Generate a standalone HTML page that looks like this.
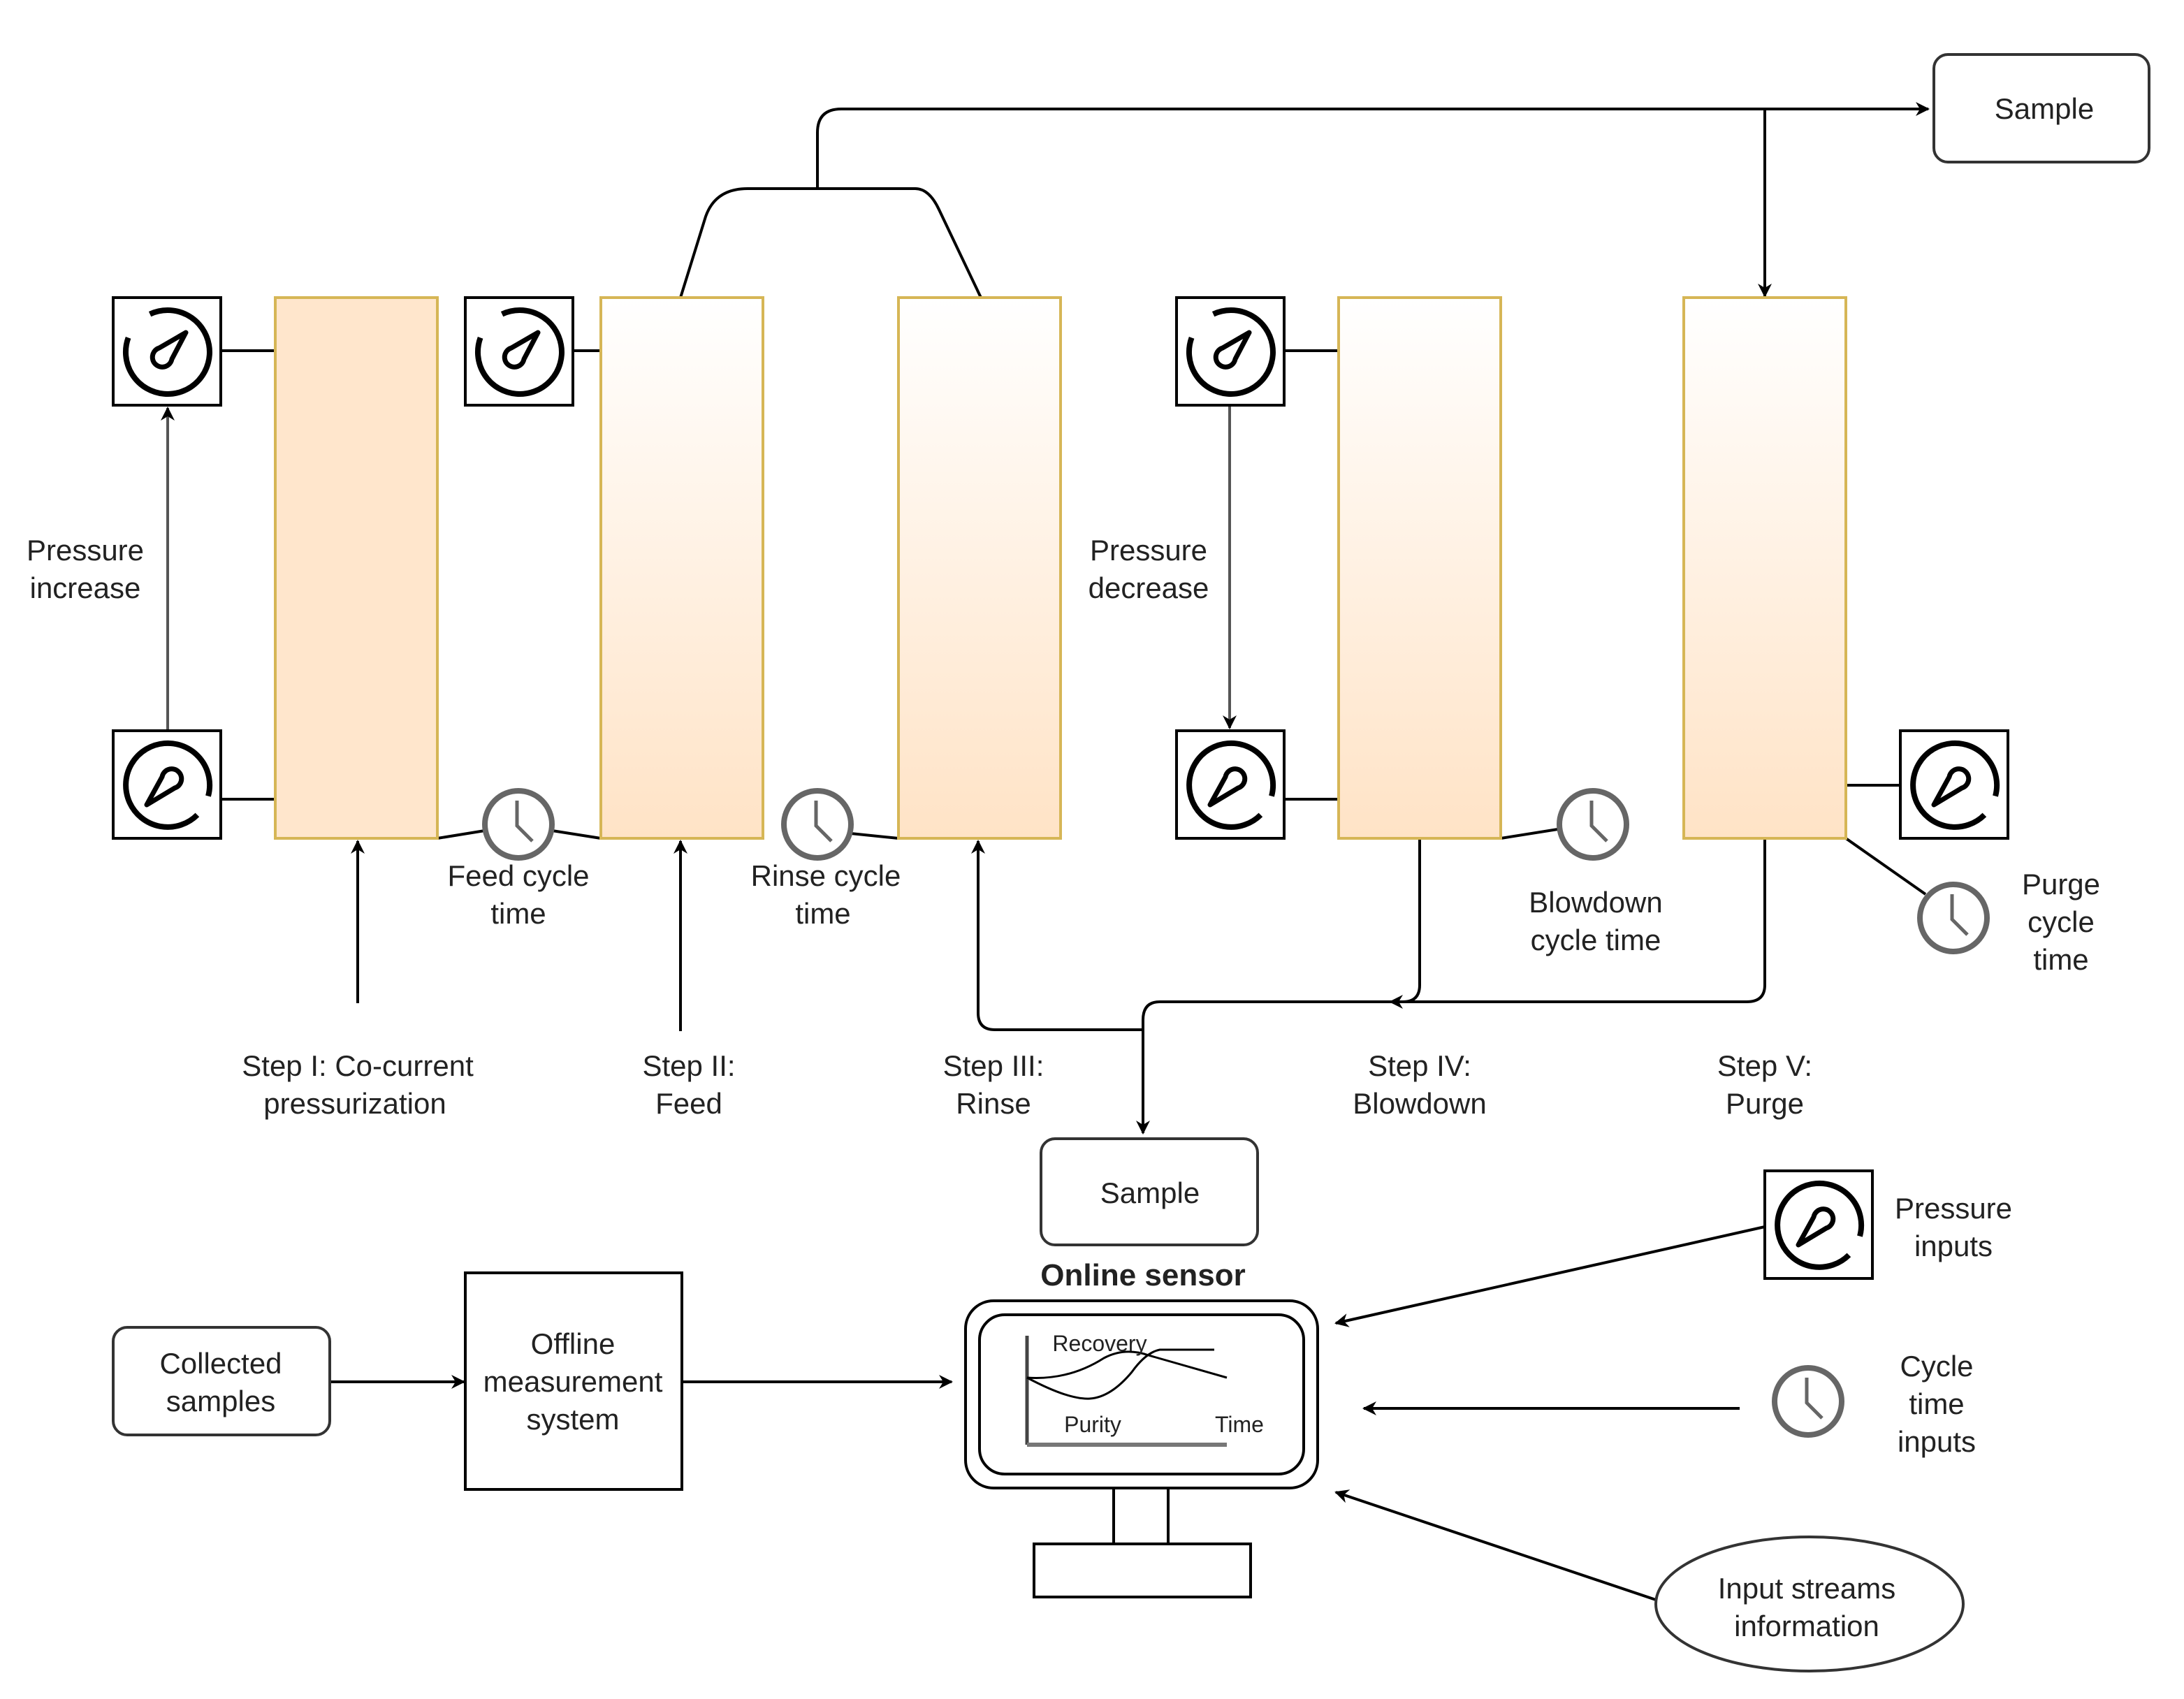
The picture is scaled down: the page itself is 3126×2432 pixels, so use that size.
<!DOCTYPE html>
<html><head><meta charset="utf-8"><style>html,body{margin:0;padding:0;background:#fff}svg{display:block}</style></head><body>
<svg width="3126" height="2432" viewBox="0 0 1563 1216" xmlns="http://www.w3.org/2000/svg" font-family="Liberation Sans, sans-serif">
<defs>
<linearGradient id="g" x1="0" y1="0" x2="0" y2="1"><stop offset="0" stop-color="#fff"/><stop offset="1" stop-color="#ffe3c6"/></linearGradient>
<marker id="a" markerWidth="10" markerHeight="10" refX="9" refY="5" orient="auto" markerUnits="userSpaceOnUse"><path d="M0,0 L10,5 L0,10 L3,5 Z" fill="#000"/></marker>
<g id="gu"><rect x="0" y="0" width="77" height="77" fill="#fff" stroke="#000" stroke-width="2"/>
<path d="M26.3,11.8 A30,30 0 1 1 10.8,28.7" fill="none" stroke="#000" stroke-width="4"/>
<path d="M52,25 L42,44 A7,7 0 1 1 33,36 Z" fill="none" stroke="#000" stroke-width="3.5" stroke-linejoin="round"/></g>
<g id="gd"><rect x="0" y="0" width="77" height="77" fill="#fff" stroke="#000" stroke-width="2"/>
<path d="M60.2,60.2 A30,30 0 1 1 68,46.8" fill="none" stroke="#000" stroke-width="4"/>
<path d="M24,53 L35,33 A7,7 0 1 1 44,41 Z" fill="none" stroke="#000" stroke-width="3.5" stroke-linejoin="round"/></g>
<g id="ck"><circle cx="0" cy="0" r="24" fill="#fff" stroke="#666" stroke-width="4"/><path d="M-1,-17 L-1,1 L10,12" fill="none" stroke="#666" stroke-width="2.5"/></g>
</defs>
<g stroke="#000" stroke-width="2" fill="none">
<line x1="158" y1="251" x2="197" y2="251"/><line x1="410" y1="251" x2="430" y2="251"/><line x1="920" y1="251" x2="958" y2="251"/>
<line x1="158" y1="572" x2="197" y2="572"/><line x1="920" y1="572" x2="958" y2="572"/><line x1="1321" y1="562" x2="1360" y2="562"/>
<line x1="313" y1="600" x2="350" y2="594"/><line x1="392" y1="594" x2="430" y2="600"/>
<line x1="604" y1="596" x2="643" y2="600"/><line x1="1074" y1="600" x2="1118" y2="593"/>
<line x1="1321" y1="600" x2="1378" y2="640"/>
<path d="M487,213 L505,155 Q512,135 535,135 L655,135 Q665,135 672,150 L702,213"/>
<path d="M585,135 L585,95 Q585,78 602,78 L1380,78" marker-end="url(#a)"/>
<line x1="1263" y1="78" x2="1263" y2="212" marker-end="url(#a)"/>
<line x1="120" y1="523" x2="120" y2="292" stroke="#555" marker-end="url(#a)"/>
<line x1="880" y1="290" x2="880" y2="521" stroke="#555" marker-end="url(#a)"/>
<line x1="256" y1="718" x2="256" y2="602" marker-end="url(#a)"/>
<line x1="487" y1="738" x2="487" y2="602" marker-end="url(#a)"/>
<path d="M818,737 L712,737 Q700,737 700,725 L700,602" marker-end="url(#a)"/>
<path d="M1016,600 L1016,705 Q1016,717 1004,717 L995,717" marker-end="url(#a)"/>
<path d="M1263,600 L1263,705 Q1263,717 1250,717 L830,717 Q818,717 818,730 L818,811" marker-end="url(#a)"/>
<line x1="236" y1="989" x2="332" y2="989" marker-end="url(#a)"/>
<line x1="488" y1="989" x2="681" y2="989" marker-end="url(#a)"/>
<line x1="1263" y1="878" x2="956" y2="947" marker-end="url(#a)"/>
<line x1="1245" y1="1008" x2="976" y2="1008" marker-end="url(#a)"/>
<line x1="1185" y1="1145" x2="956" y2="1068" marker-end="url(#a)"/>
</g>
<g stroke="#d6b656" stroke-width="2">
<rect x="197" y="213" width="116" height="387" fill="#ffe6cc"/>
<rect x="430" y="213" width="116" height="387" fill="url(#g)"/>
<rect x="643" y="213" width="116" height="387" fill="url(#g)"/>
<rect x="958" y="213" width="116" height="387" fill="url(#g)"/>
<rect x="1205" y="213" width="116" height="387" fill="url(#g)"/>
</g>
<use href="#gu" x="81" y="213"/><use href="#gu" x="333" y="213"/><use href="#gu" x="842" y="213"/>
<use href="#gd" x="81" y="523"/><use href="#gd" x="842" y="523"/><use href="#gd" x="1360" y="523"/><use href="#gd" x="1263" y="838"/>
<use href="#ck" x="371" y="590"/><use href="#ck" x="585" y="590"/><use href="#ck" x="1140" y="590"/><use href="#ck" x="1398" y="657"/><use href="#ck" x="1294" y="1003"/>
<g fill="#fff" stroke="#333" stroke-width="2">
<rect x="1384" y="39" width="154" height="77" rx="10"/>
<rect x="745" y="815" width="155" height="76" rx="10"/>
<rect x="81" y="950" width="155" height="77" rx="10"/>
<rect x="333" y="911" width="155" height="155" stroke="#000"/>
<ellipse cx="1295" cy="1148" rx="110" ry="48"/>
</g>
<g fill="none" stroke="#000" stroke-width="2">
<rect x="691" y="931" width="252" height="134" rx="20"/>
<rect x="701" y="941" width="232" height="114" rx="18"/>
<line x1="797" y1="1065" x2="797" y2="1105"/><line x1="836" y1="1065" x2="836" y2="1105"/>
<rect x="740" y="1105" width="155" height="38"/>
<line x1="735" y1="956" x2="735" y2="1034" stroke="#444" stroke-width="2.5"/>
<line x1="735" y1="1034" x2="878" y2="1034" stroke="#777" stroke-width="3"/>
<path d="M735,986 Q765,988 790,972 Q805,964 822,970 L878,986" stroke-width="1.5"/>
<path d="M735,986 Q765,1002 780,1001 Q795,1000 810,982 Q820,968 830,966 L869,966" stroke-width="1.5"/>
</g>
<g font-size="21" fill="#222" text-anchor="middle">
<text x="1463" y="85">Sample</text>
<text x="823" y="861">Sample</text>
<text x="61" y="401">Pressure</text><text x="61" y="428">increase</text>
<text x="822" y="401">Pressure</text><text x="822" y="428">decrease</text>
<text x="371" y="634">Feed cycle</text><text x="371" y="661">time</text>
<text x="591" y="634">Rinse cycle</text><text x="589" y="661">time</text>
<text x="1142" y="653">Blowdown</text><text x="1142" y="680">cycle time</text>
<text x="1475" y="640">Purge</text><text x="1475" y="667">cycle</text><text x="1475" y="694">time</text>
<text x="256" y="770">Step I: Co-current</text><text x="254" y="797">pressurization</text>
<text x="493" y="770">Step II:</text><text x="493" y="797">Feed</text>
<text x="711" y="770">Step III:</text><text x="711" y="797">Rinse</text>
<text x="1016" y="770">Step IV:</text><text x="1016" y="797">Blowdown</text>
<text x="1263" y="770">Step V:</text><text x="1263" y="797">Purge</text>
<text x="1398" y="872">Pressure</text><text x="1398" y="899">inputs</text>
<text x="1386" y="985">Cycle</text><text x="1386" y="1012">time</text><text x="1386" y="1039">inputs</text>
<text x="1293" y="1144">Input streams</text><text x="1293" y="1171">information</text>
<text x="158" y="983">Collected</text><text x="158" y="1010">samples</text>
<text x="410" y="969">Offline</text><text x="410" y="996">measurement</text><text x="410" y="1023">system</text>
<text x="818" y="920" font-weight="bold" font-size="22">Online sensor</text>
<text x="787" y="967" font-size="16">Recovery</text>
<text x="782" y="1025" font-size="16">Purity</text>
<text x="887" y="1025" font-size="16">Time</text>
</g>
</svg>
</body></html>
